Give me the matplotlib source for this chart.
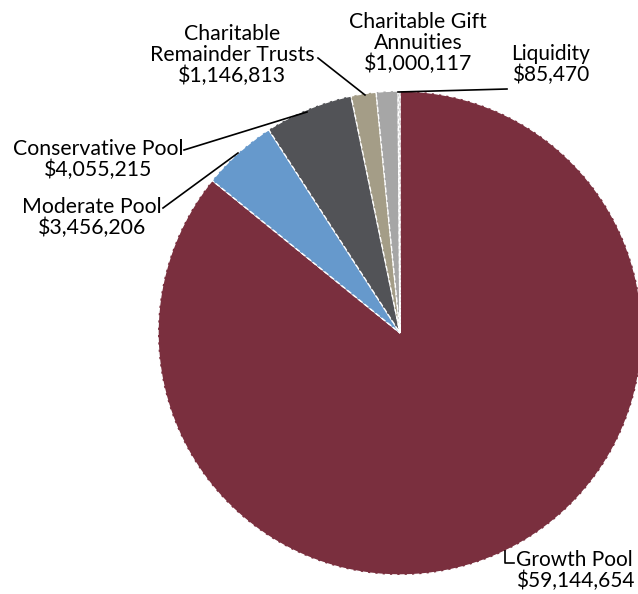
import numpy as np
import matplotlib.pyplot as plt

# --- data ---
labels = ["Growth Pool", "Moderate Pool", "Conservative Pool",
          "Charitable\nRemainder Trusts", "Charitable Gift\nAnnuities", "Liquidity"]
values = [59144654, 3456206, 4055215, 1146813, 1000117, 85470]
amounts = ["$59,144,654", "$3,456,206", "$4,055,215", "$1,146,813", "$1,000,117", "$85,470"]
colors = ["#7A2F3E", "#6699CC", "#525357", "#A49D87", "#A6A6A6", "#C8C8C8"]

plt.rcParams['font.family'] = ['Lato', 'DejaVu Sans']

W, H = 638, 594
fig = plt.figure(figsize=(W / 100, H / 100), dpi=100)
ax = fig.add_axes([0, 0, 1, 1])

cx, cy, r = 400, 333, 242
ax.pie(values, colors=colors, startangle=90, counterclock=False,
       center=(cx, H - cy), radius=r,
       wedgeprops=dict(edgecolor="white", linewidth=1.0, linestyle="--"))
ax.set_xlim(0, W)
ax.set_ylim(0, H)
ax.set_aspect("equal")
ax.axis("off")

fs = 15.3
# label block centers in pixels from top-left
pos = [(516, 571, "left"), (92, 218, "center"), (98, 160, "center"),
       (232, 55, "center"), (418, 43, "center"), (551, 65, "center")]
for lab, amt, (x, y, ha) in zip(labels, amounts, pos):
    ax.text(x, H - y, lab + "\n" + amt, ha=ha, va="center",
            fontsize=fs if x < 500 else 15, linespacing=1.04, color="black")

lw = 1.2
def leader(xs, ys):
    ax.plot(xs, [H - v for v in ys], color="black", lw=lw)

leader([238, 163], [153, 208])
leader([307, 184], [112, 150])
leader([365, 318], [95, 58])
leader([398, 507], [92, 89])
leader([505, 505, 514], [551, 563, 563])

fig.savefig("out.png", dpi=100)
